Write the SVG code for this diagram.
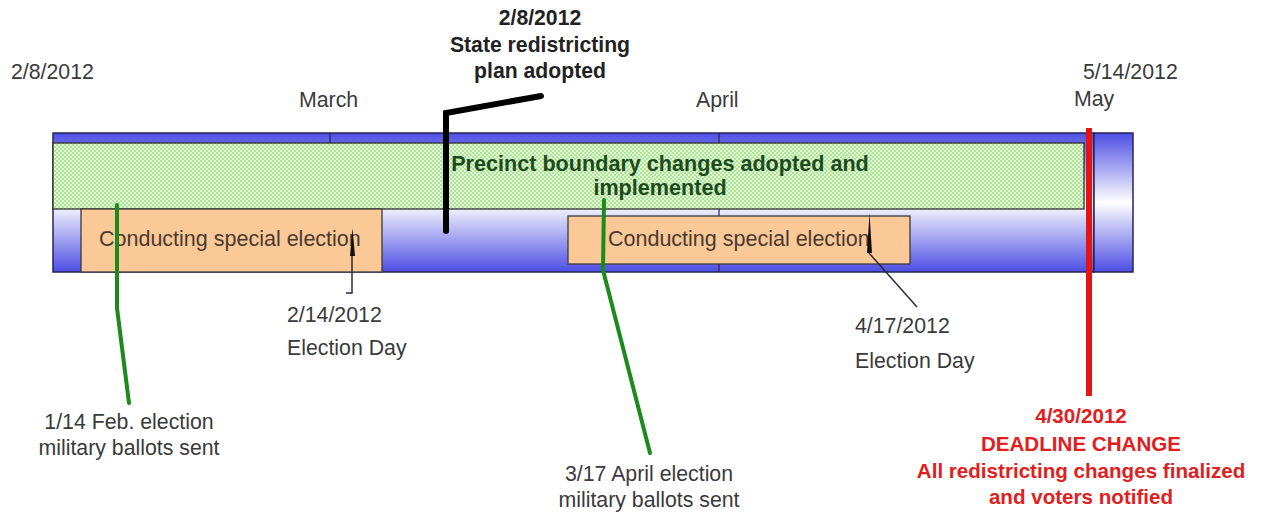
<svg xmlns="http://www.w3.org/2000/svg" width="1269" height="512" viewBox="0 0 1269 512">
<style>
  .lbl { font-family: "Liberation Sans", Arial, sans-serif; font-size: 21.3px; fill: #3a3a3a; }
  .bold { font-family: "Liberation Sans", Arial, sans-serif; font-size: 21.2px; font-weight: bold; }
  .box-txt { font-family: "Liberation Sans", Arial, sans-serif; font-size: 21.5px; fill: #4a3a2e; }
  .orange { fill: #fbc897; stroke: #3a3a3a; stroke-width: 1.3; }
  .bar { fill: url(#barGrad); stroke: #24245a; stroke-width: 1.5; }
  .div { stroke: #24245a; stroke-width: 1.2; }
  .green-ln { fill: none; stroke: #1c8a1c; stroke-width: 4; stroke-linecap: round; stroke-linejoin: round; }
  .call { fill: none; stroke: #2a2a3a; stroke-width: 1.5; }
</style>
<defs>
  <linearGradient id="barGrad" x1="0" y1="0" x2="0" y2="1">
    <stop offset="0" stop-color="#4d4de4"/>
    <stop offset="0.5" stop-color="#ffffff"/>
    <stop offset="1" stop-color="#4d4de4"/>
  </linearGradient>
  <pattern id="checker" width="4" height="4" patternUnits="userSpaceOnUse">
    <rect width="4" height="4" fill="#e0f7d2"/>
    <rect width="2" height="2" fill="#ade39a"/>
    <rect x="2" y="2" width="2" height="2" fill="#ade39a"/>
  </pattern>
</defs>
<rect width="1269" height="512" fill="#ffffff"/>

<g id="timeline">
  <rect class="bar" x="53" y="133" width="1041" height="139"/>
  <rect class="bar" x="1094" y="133" width="39" height="139"/>
  <line class="div" x1="330" y1="133" x2="330" y2="272"/>
  <line class="div" x1="719" y1="133" x2="719" y2="272"/>
</g>

<g id="precinct">
  <rect x="53" y="143" width="1031" height="66" fill="url(#checker)" stroke="#2e2e2e" stroke-width="1.3"/>
  <text class="bold" fill="#1e4a1e" text-anchor="middle" style="font-size:21.6px"><tspan x="660" y="171">Precinct boundary changes adopted and</tspan><tspan x="660" y="195">implemented</tspan></text>
</g>

<g id="election1">
  <rect class="orange" x="81" y="209" width="301" height="63"/>
  <text class="box-txt" x="99" y="246">Conducting special election</text>
</g>

<g id="election2">
  <rect class="orange" x="568" y="216" width="342" height="48"/>
  <text class="box-txt" x="608" y="246">Conducting special election</text>
</g>

<g id="connectors">
  <polyline points="446,231 446,113 541,96" fill="none" stroke="#000" stroke-width="6" stroke-linecap="round" stroke-linejoin="miter"/>
  <polyline class="green-ln" points="117,205 117,308 129,403"/>
  <polyline class="green-ln" points="604,200 603,270 650,453"/>
  <line x1="1089" y1="128" x2="1089" y2="396" stroke="#e51414" stroke-width="6"/>
  <polyline class="call" points="352,256 352,293 346,293"/>
  <polygon points="352.5,228 355,256 350,256" fill="#111"/>
  <polyline class="call" points="869,253 917,307"/>
  <polygon points="869.5,213 872,253 867,253" fill="#111"/>
</g>

<g id="labels">
  <text class="lbl" x="11" y="79">2/8/2012</text>
  <text class="lbl" x="299" y="107">March</text>
  <text class="lbl" x="696" y="107">April</text>
  <text class="lbl" x="1074" y="106">May</text>
  <text class="lbl" x="1083" y="79">5/14/2012</text>
  <text class="lbl" x="287" y="322">2/14/2012</text>
  <text class="lbl" x="287" y="355">Election Day</text>
  <text class="lbl" x="855" y="333">4/17/2012</text>
  <text class="lbl" x="855" y="368">Election Day</text>
  <text class="lbl" text-anchor="middle"><tspan x="129" y="429">1/14 Feb. election</tspan><tspan x="129" y="455">military ballots sent</tspan></text>
  <text class="lbl" text-anchor="middle"><tspan x="649" y="481">3/17 April election</tspan><tspan x="649" y="507">military ballots sent</tspan></text>
</g>

<g id="plan-adopted">
  <text class="bold" fill="#222" text-anchor="middle"><tspan x="540" y="25">2/8/2012</tspan><tspan x="540" y="52">State redistricting</tspan><tspan x="540" y="78">plan adopted</tspan></text>
</g>

<g id="deadline">
  <text class="bold" fill="#e02020" text-anchor="middle" style="font-size:20.6px"><tspan x="1081" y="423">4/30/2012</tspan><tspan x="1081" y="451">DEADLINE CHANGE</tspan><tspan x="1081" y="478">All redistricting changes finalized</tspan><tspan x="1081" y="504">and voters notified</tspan></text>
</g>
</svg>
